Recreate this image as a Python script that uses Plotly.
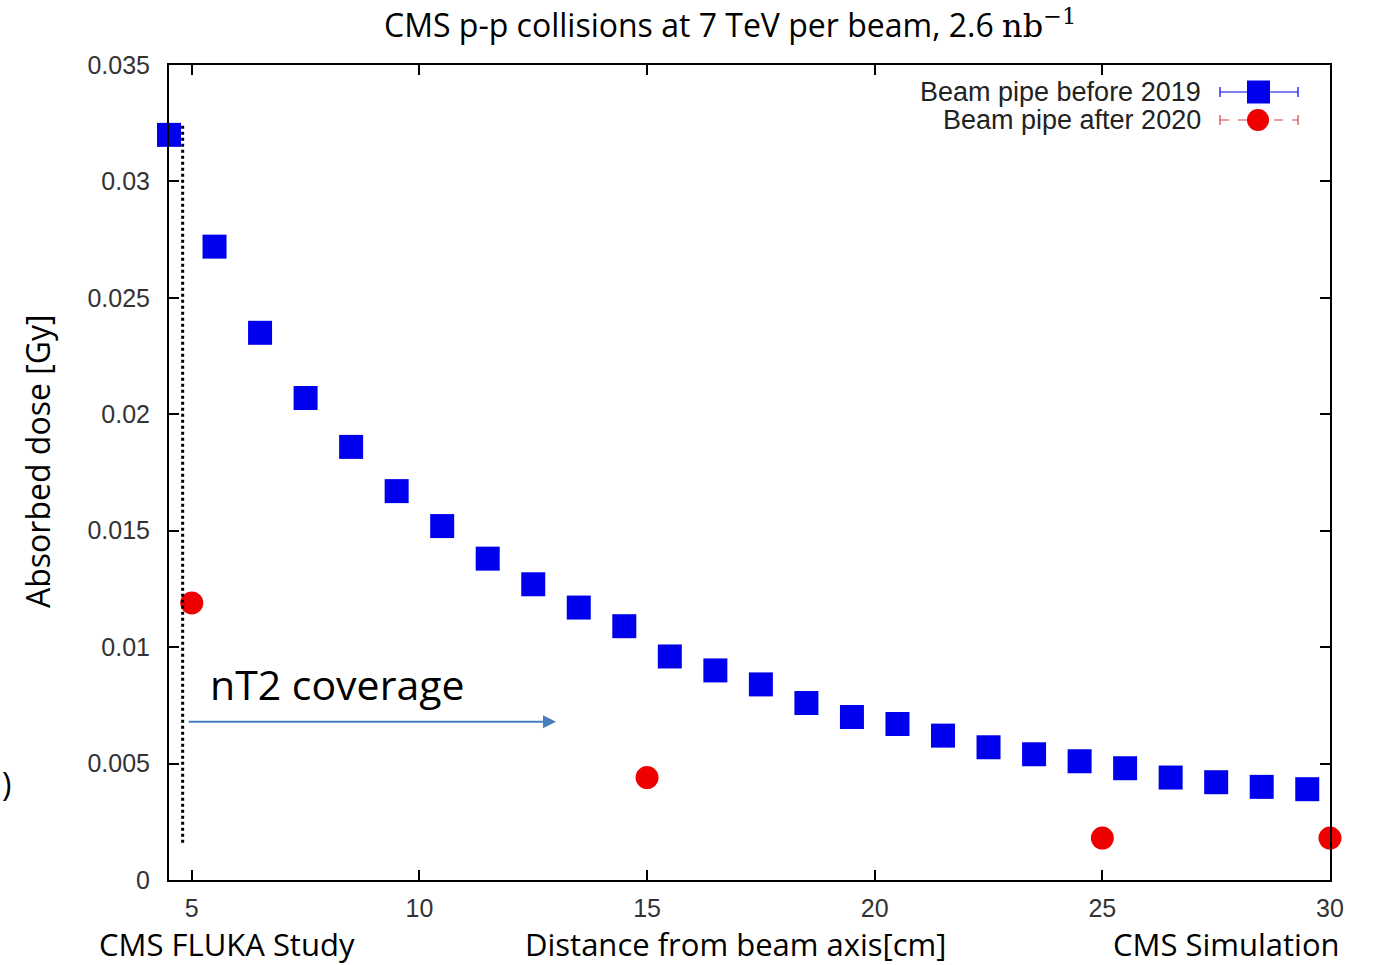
import plotly.graph_objects as go

# ---- data ----
x_before = [4.5, 5.5, 6.5, 7.5, 8.5, 9.5, 10.5, 11.5, 12.5, 13.5, 14.5, 15.5, 16.5,
            17.5, 18.5, 19.5, 20.5, 21.5, 22.5, 23.5, 24.5, 25.5, 26.5, 27.5, 28.5, 29.5]
dose_before = [0.0320, 0.0272, 0.0235, 0.0207, 0.0186, 0.0167, 0.0152, 0.0138, 0.0127,
               0.0117, 0.0109, 0.0096, 0.0090, 0.0084, 0.0076, 0.0070, 0.0067, 0.0062,
               0.0057, 0.0054, 0.0051, 0.0048, 0.0044, 0.0042, 0.0040, 0.0039]
x_after = [5, 15, 25, 30]
dose_after = [0.0119, 0.0044, 0.0018, 0.0018]

x_ticks = [5, 10, 15, 20, 25, 30]
y_ticks = [0, 0.005, 0.01, 0.015, 0.02, 0.025, 0.03, 0.035]
y_tick_labels = ["0", "0.005", "0.01", "0.015", "0.02", "0.025", "0.03", "0.035"]

coverage_x = [4.8, 13.0]   # nT2 coverage start / end
coverage_y = 0.0068

BLUE = "#0000ee"
RED = "#ee0000"

# plot area in pixels
L, R, T, B = 169, 1330, 65, 880
W, H = 1373, 965


def px(xp):
    return (xp - L) / (R - L)


def py(yp):
    return (B - yp) / (B - T)


fig = go.Figure()
fig.add_trace(go.Scatter(x=x_before, y=dose_before, mode="markers", cliponaxis=False,
                         marker=dict(symbol="square", size=24, color=BLUE),
                         name="Beam pipe before 2019", showlegend=False))
fig.add_trace(go.Scatter(x=x_after, y=dose_after, mode="markers", cliponaxis=False,
                         marker=dict(symbol="circle", size=23, color=RED),
                         name="Beam pipe after 2020", showlegend=False))

shapes = []
# dotted vertical line
shapes.append(dict(type="line", xref="x", yref="y", x0=coverage_x[0], x1=coverage_x[0],
                   y0=0.0016, y1=0.0324, line=dict(color="black", width=3, dash="dot")))

# legend drawn by hand (gnuplot style: text left, sample right)
ly1, ly2 = 92, 120
# blue sample
shapes.append(dict(type="line", xref="paper", yref="paper", x0=px(1220), x1=px(1298),
                   y0=py(ly1), y1=py(ly1), line=dict(color=BLUE, width=1.2)))
for xc in (1220, 1298):
    shapes.append(dict(type="line", xref="paper", yref="paper", x0=px(xc), x1=px(xc),
                       y0=py(ly1 - 5), y1=py(ly1 + 5), line=dict(color=BLUE, width=1.2)))
shapes.append(dict(type="rect", xref="paper", yref="paper", x0=px(1247), x1=px(1270),
                   y0=py(ly1 + 11.5), y1=py(ly1 - 11.5), fillcolor=BLUE, line=dict(width=0)))
# red sample
shapes.append(dict(type="line", xref="paper", yref="paper", x0=px(1220), x1=px(1298),
                   y0=py(ly2), y1=py(ly2), line=dict(color="#d04040", width=1.2, dash="dash")))
for xc in (1220, 1298):
    shapes.append(dict(type="line", xref="paper", yref="paper", x0=px(xc), x1=px(xc),
                       y0=py(ly2 - 5), y1=py(ly2 + 5), line=dict(color="#d04040", width=1.2)))
shapes.append(dict(type="circle", xref="paper", yref="paper", x0=px(1247), x1=px(1269),
                   y0=py(ly2 + 11), y1=py(ly2 - 11), fillcolor=RED, line=dict(width=0)))

annotations = [
    dict(x=px(1203), y=py(ly1), xref="paper", yref="paper", xanchor="right", yanchor="middle",
         text="Beam pipe before 2019", showarrow=False,
         font=dict(family="Liberation Sans", size=27, color="#222")),
    dict(x=px(1203), y=py(ly2), xref="paper", yref="paper", xanchor="right", yanchor="middle",
         text="Beam pipe after 2020", showarrow=False,
         font=dict(family="Liberation Sans", size=27, color="#222")),
    # coverage arrow
    dict(x=coverage_x[1], y=coverage_y, ax=4.9, ay=coverage_y, xref="x", yref="y",
         axref="x", ayref="y", text="", showarrow=True, arrowhead=2, arrowsize=1.3,
         arrowwidth=2, arrowcolor="#4a7ebb"),
    dict(x=px(208), y=py(684), xref="paper", yref="paper", xanchor="left", yanchor="middle",
         text="nT2 coverage", showarrow=False,
         font=dict(family="Open Sans", size=41, color="black")),
    dict(x=px(730), y=py(24), xref="paper", yref="paper", xanchor="center", yanchor="middle",
         text="CMS p-p collisions at 7 TeV per beam, 2.6 "
              "<span style='font-family:DejaVu Serif'>nb<sup>−1</sup></span>",
         showarrow=False,
         font=dict(family="Open Sans", size=32, color="black")),
    dict(x=px(38), y=py(462), xref="paper", yref="paper", xanchor="center", yanchor="middle",
         text="Absorbed dose [Gy]", textangle=-90, showarrow=False,
         font=dict(family="Open Sans", size=32, color="black")),
    dict(x=px(735), y=py(944), xref="paper", yref="paper", xanchor="center", yanchor="middle",
         text="Distance from beam axis[cm]", showarrow=False,
         font=dict(family="Open Sans", size=31, color="black")),
    dict(x=px(97), y=py(944), xref="paper", yref="paper", xanchor="left", yanchor="middle",
         text="CMS FLUKA Study", showarrow=False,
         font=dict(family="Open Sans", size=31, color="black")),
    dict(x=px(1342), y=py(944), xref="paper", yref="paper", xanchor="right", yanchor="middle",
         text="CMS Simulation", showarrow=False,
         font=dict(family="Open Sans", size=31, color="black")),
    dict(x=px(6), y=py(783), xref="paper", yref="paper", xanchor="center", yanchor="middle",
         text=")", showarrow=False,
         font=dict(family="Open Sans", size=32, color="black")),
]

axis_common = dict(showgrid=False, zeroline=False, showline=True, linecolor="black",
                   linewidth=2, mirror="ticks", ticks="inside", ticklen=10, tickwidth=2,
                   tickcolor="black",
                   tickfont=dict(family="Liberation Sans", size=25, color="#333"))

fig.update_layout(
    width=W, height=H,
    margin=dict(l=L, r=W - R, t=T, b=H - B),
    plot_bgcolor="white", paper_bgcolor="white",
    showlegend=False,
    shapes=shapes, annotations=annotations,
    xaxis=dict(range=[4.5, 30], tickvals=x_ticks, ticklabelstandoff=5, **axis_common),
    yaxis=dict(range=[0, 0.035], tickvals=y_ticks, ticktext=y_tick_labels,
               ticklabelstandoff=12, **axis_common),
)

fig.write_html("out.html", config={"displayModeBar": False},
               post_script="document.body.style.margin='0';")
